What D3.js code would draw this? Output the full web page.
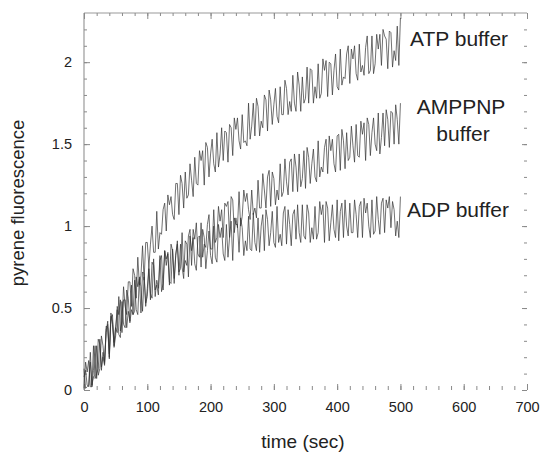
<!DOCTYPE html>
<html>
<head>
<meta charset="utf-8">
<script src="https://cdnjs.cloudflare.com/ajax/libs/d3/7.8.5/d3.min.js"></script>
<style>
  body { margin: 0; background: #fff; }
  svg { display: block; }
  text { font-family: "Liberation Sans", Arial, Helvetica, sans-serif; fill: #222; }
</style>
</head>
<body>
<script>
// traces are sampled every 2.5 sec, 0..500
var times = d3.range(0, 500.1, 2.5);

var atpValues = [
  0.08, 0.12, 0.03, 0.02, 0.17, 0.03, 0.08, 0.09, 0.27, 0.09,
  0.13, 0.33, 0.27, 0.16, 0.37, 0.40, 0.22, 0.47, 0.42, 0.29,
  0.38, 0.35, 0.57, 0.36, 0.42, 0.63, 0.51, 0.46, 0.66, 0.66,
  0.51, 0.74, 0.70, 0.56, 0.81, 0.64, 0.70, 0.88, 0.67, 0.90,
  0.90, 0.75, 0.89, 1.00, 0.84, 0.84, 1.09, 0.86, 0.96, 0.95,
  1.10, 1.14, 0.97, 1.19, 1.13, 1.18, 1.07, 1.04, 1.26, 1.26,
  1.07, 1.31, 1.26, 1.11, 1.33, 1.17, 1.19, 1.38, 1.28, 1.18,
  1.42, 1.26, 1.25, 1.46, 1.40, 1.46, 1.25, 1.51, 1.48, 1.30,
  1.44, 1.53, 1.38, 1.33, 1.57, 1.36, 1.44, 1.60, 1.40, 1.58,
  1.57, 1.39, 1.62, 1.60, 1.43, 1.66, 1.59, 1.66, 1.52, 1.47,
  1.68, 1.51, 1.52, 1.49, 1.75, 1.53, 1.61, 1.75, 1.55, 1.78,
  1.73, 1.55, 1.64, 1.60, 1.80, 1.77, 1.58, 1.83, 1.77, 1.62,
  1.74, 1.84, 1.67, 1.63, 1.85, 1.68, 1.68, 1.89, 1.84, 1.68,
  1.76, 1.70, 1.92, 1.75, 1.70, 1.94, 1.86, 1.70, 1.91, 1.75,
  1.78, 1.97, 1.75, 1.96, 1.95, 1.75, 1.85, 1.78, 1.99, 1.78,
  1.81, 2.02, 1.95, 2.01, 1.79, 2.00, 1.99, 1.80, 1.95, 2.05,
  1.85, 1.83, 2.08, 1.86, 1.91, 1.90, 2.05, 2.10, 1.87, 2.08,
  2.02, 2.10, 1.93, 1.89, 2.11, 1.94, 1.98, 1.92, 2.09, 2.16,
  1.93, 1.95, 2.16, 1.93, 1.99, 2.17, 2.08, 2.17, 1.98, 2.20,
  2.16, 2.14, 1.96, 2.19, 2.18, 1.97, 2.07, 2.01, 2.22, 1.98,
  2.27
];

var amppnpValues = [
  0.13, 0.01, 0.02, 0.03, 0.23, 0.02, 0.12, 0.27, 0.07, 0.31,
  0.28, 0.14, 0.20, 0.15, 0.39, 0.38, 0.19, 0.45, 0.40, 0.27,
  0.39, 0.49, 0.34, 0.32, 0.54, 0.40, 0.38, 0.61, 0.56, 0.41,
  0.49, 0.46, 0.67, 0.49, 0.46, 0.69, 0.63, 0.48, 0.69, 0.53,
  0.57, 0.74, 0.55, 0.78, 0.76, 0.57, 0.67, 0.62, 0.82, 0.60,
  0.65, 0.85, 0.80, 0.83, 0.64, 0.89, 0.85, 0.68, 0.82, 0.91,
  0.72, 0.74, 0.96, 0.72, 0.79, 0.76, 0.94, 0.98, 0.76, 0.98,
  0.92, 1.02, 0.83, 0.81, 1.02, 0.81, 0.89, 0.87, 1.01, 1.07,
  0.86, 0.86, 1.10, 0.90, 0.93, 1.12, 1.03, 1.10, 0.93, 1.14,
  1.12, 1.15, 0.93, 1.18, 1.16, 0.96, 1.05, 0.99, 1.21, 1.00,
  1.06, 1.22, 1.15, 1.20, 1.10, 1.04, 1.22, 1.07, 1.11, 1.05,
  1.28, 1.11, 1.11, 1.32, 1.22, 1.11, 1.30, 1.34, 1.12, 1.33,
  1.29, 1.13, 1.22, 1.16, 1.38, 1.18, 1.21, 1.41, 1.27, 1.19,
  1.39, 1.41, 1.21, 1.44, 1.36, 1.21, 1.44, 1.24, 1.29, 1.46,
  1.23, 1.48, 1.42, 1.26, 1.38, 1.47, 1.30, 1.27, 1.52, 1.30,
  1.36, 1.33, 1.48, 1.53, 1.32, 1.55, 1.46, 1.53, 1.38, 1.33,
  1.55, 1.56, 1.34, 1.59, 1.52, 1.35, 1.57, 1.40, 1.42, 1.61,
  1.49, 1.39, 1.62, 1.43, 1.42, 1.64, 1.56, 1.63, 1.40, 1.66,
  1.62, 1.43, 1.57, 1.66, 1.50, 1.46, 1.69, 1.44, 1.54, 1.69,
  1.49, 1.71, 1.65, 1.48, 1.70, 1.69, 1.50, 1.74, 1.65, 1.50,
  1.75
];

var adpValues = [
  0.01, 0.17, 0.11, 0.18, 0.02, 0.02, 0.27, 0.07, 0.10, 0.13,
  0.31, 0.12, 0.23, 0.17, 0.35, 0.42, 0.20, 0.43, 0.46, 0.26,
  0.33, 0.51, 0.46, 0.55, 0.35, 0.55, 0.55, 0.38, 0.48, 0.42,
  0.64, 0.46, 0.48, 0.69, 0.63, 0.68, 0.47, 0.72, 0.71, 0.51,
  0.62, 0.75, 0.59, 0.56, 0.80, 0.61, 0.64, 0.58, 0.79, 0.82,
  0.61, 0.85, 0.76, 0.84, 0.66, 0.65, 0.86, 0.65, 0.83, 0.89,
  0.70, 0.89, 0.75, 0.68, 0.91, 0.89, 0.69, 0.94, 0.85, 0.93,
  0.77, 0.73, 0.93, 0.94, 0.75, 0.98, 0.93, 0.74, 0.85, 0.97,
  0.82, 0.77, 1.00, 0.81, 0.78, 1.01, 0.93, 0.99, 0.83, 0.79,
  1.01, 0.81, 0.93, 1.03, 0.79, 1.05, 1.01, 1.01, 0.84, 1.05,
  0.99, 0.82, 0.91, 0.85, 1.06, 0.86, 0.85, 1.08, 0.90, 0.85,
  1.05, 0.84, 1.00, 1.07, 0.85, 1.10, 1.04, 0.88, 0.96, 1.09,
  0.90, 0.87, 1.12, 0.90, 0.95, 0.88, 1.08, 1.12, 0.89, 1.10,
  1.01, 0.88, 1.07, 1.10, 0.92, 1.13, 0.96, 0.90, 1.13, 0.94,
  0.92, 1.13, 1.08, 0.90, 0.99, 0.92, 1.12, 0.92, 0.96, 1.15,
  1.07, 1.13, 0.90, 1.15, 1.11, 0.91, 1.02, 1.13, 0.98, 0.93,
  1.16, 0.91, 1.09, 1.14, 0.93, 1.16, 1.00, 0.94, 1.14, 0.96,
  0.96, 1.16, 1.07, 0.93, 1.12, 1.15, 0.93, 1.17, 1.08, 1.14,
  1.00, 0.93, 1.16, 0.95, 0.97, 1.18, 1.04, 0.95, 1.14, 1.17,
  0.96, 1.16, 1.11, 1.18, 0.99, 1.15, 1.10, 0.94, 1.03, 0.93,
  1.18
];

var seriesList = [
  { name: "ATP", values: atpValues },
  { name: "AMPPNP", values: amppnpValues },
  { name: "ADP", values: adpValues }
];

var xTickValues = [0, 100, 200, 300, 400, 500, 600, 700];
var yTickValues = [0, 0.5, 1, 1.5, 2];
var xMinorTicks = d3.range(0, 701, 20);
var yMinorTicks = d3.range(0, 23).map(function(i) { return i / 10; });

var width = 540, height = 454;
// note: "top" is taken by window.top, so prefix these
var plotLeft = 84, plotRight = 527, plotTop = 13, plotBottom = 390;

var svg = d3.select("body").append("svg")
  .attr("width", width)
  .attr("height", height);

var x = d3.scaleLinear().domain([0, 700]).range([plotLeft, plotRight]);
var y = d3.scaleLinear().domain([0, 2.3]).range([plotBottom, plotTop]);

var tickColor = "#8a8a8a";

// frame: only left and top carry a line, right/bottom just ticks
svg.append("line")
  .attr("x1", plotLeft).attr("x2", plotLeft)
  .attr("y1", plotTop).attr("y2", plotBottom)
  .style("stroke", "#9a9a9a").style("stroke-width", 1.2);
svg.append("line")
  .attr("x1", plotLeft).attr("x2", plotRight)
  .attr("y1", plotTop).attr("y2", plotTop)
  .style("stroke", "#9a9a9a").style("stroke-width", 1.2);

function tickAxis(axis, transform) {
  var g = svg.append("g").attr("transform", transform).call(axis);
  g.select(".domain").remove();
  g.selectAll(".tick line").style("stroke", tickColor);
  return g;
}

// minor ticks on all four sides
tickAxis(d3.axisBottom(x).tickValues(xMinorTicks).tickSize(-4).tickFormat(""), "translate(0," + plotBottom + ")");
tickAxis(d3.axisTop(x).tickValues(xMinorTicks).tickSize(-3).tickFormat(""), "translate(0," + plotTop + ")");
tickAxis(d3.axisLeft(y).tickValues(yMinorTicks).tickSize(-3).tickFormat(""), "translate(" + plotLeft + ",0)");
tickAxis(d3.axisRight(y).tickValues(yMinorTicks).tickSize(-3).tickFormat(""), "translate(" + plotRight + ",0)");

// major ticks + labels
var xAxisG = tickAxis(d3.axisBottom(x).tickValues(xTickValues).tickSize(-6).tickPadding(12).tickFormat(d3.format("d")), "translate(0," + plotBottom + ")");
tickAxis(d3.axisTop(x).tickValues(xTickValues).tickSize(-6).tickFormat(""), "translate(0," + plotTop + ")");
var yAxisG = tickAxis(d3.axisLeft(y).tickValues(yTickValues).tickSize(-6).tickPadding(12).tickFormat(d3.format("")), "translate(" + plotLeft + ",0)");
tickAxis(d3.axisRight(y).tickValues(yTickValues).tickSize(-5).tickFormat(""), "translate(" + plotRight + ",0)");

xAxisG.selectAll("text").style("font-size", "14.5px").style("fill", "#222");
yAxisG.selectAll("text").style("font-size", "14.5px").style("fill", "#222");

// traces
var line = d3.line()
  .x(function(d) { return x(d.t); })
  .y(function(d) { return y(d.v); });

seriesList.forEach(function(s) {
  var pts = s.values.map(function(v, i) { return { t: times[i], v: v }; });
  svg.append("path")
    .datum(pts)
    .attr("d", line)
    .style("fill", "none")
    .style("stroke", "#333")
    .style("stroke-width", 0.7);
});

// series labels
svg.append("text").attr("x", 410).attr("y", 46).style("font-size", "21px").text("ATP buffer");
svg.append("text").attr("x", 461).attr("y", 114).style("font-size", "21px")
  .attr("text-anchor", "middle").text("AMPPNP");
svg.append("text").attr("x", 463).attr("y", 141).style("font-size", "21px")
  .attr("text-anchor", "middle").text("buffer");
svg.append("text").attr("x", 407).attr("y", 217).style("font-size", "21px").text("ADP buffer");

// axis titles
svg.append("text")
  .attr("x", 303).attr("y", 448)
  .attr("text-anchor", "middle")
  .style("font-size", "19px")
  .text("time (sec)");

svg.append("text")
  .attr("transform", "translate(24,203) rotate(-90)")
  .attr("text-anchor", "middle")
  .style("font-size", "18.5px")
  .text("pyrene fluorescence");
</script>
</body>
</html>
